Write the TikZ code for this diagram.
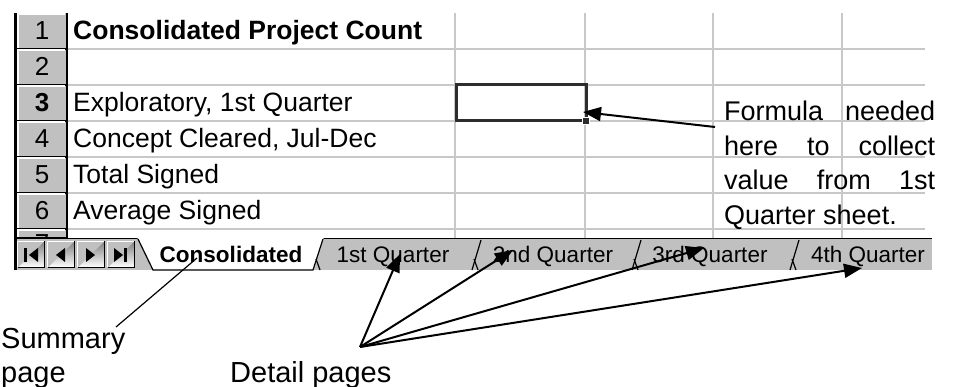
\documentclass[tikz,border=0pt]{standalone}
\usepackage{fontspec}
\setmainfont{Liberation Sans}
\usetikzlibrary{arrows.meta}
\definecolor{gridc}{RGB}{200,200,200}
\definecolor{face}{RGB}{192,192,192}
\definecolor{shade}{RGB}{128,128,128}
\definecolor{selc}{RGB}{45,45,45}
\begin{document}
\begin{tikzpicture}[x=1pt,y=-1pt,
  gridline/.style={draw=gridc, line width=1.5pt},
  celltext/.style={anchor=base west, inner sep=0pt, font=\fontsize{26.5}{30}\selectfont},
  rownum/.style={anchor=base, inner sep=0pt, font=\fontsize{26}{30}\selectfont},
  tabtext/.style={anchor=base, inner sep=0pt, font=\fontsize{22.5}{26}\selectfont},
  note/.style={inner sep=0pt, font=\fontsize{27}{34.5}\selectfont},
  label/.style={inner sep=0pt, font=\fontsize{29}{40}\selectfont},
  tabedge/.style={draw=black, line width=1.2pt},
  arr/.style={-{Triangle[length=18pt,width=14pt]}, line width=2pt},
  plainline/.style={line width=1.2pt},
  icon/.style={fill=black}
]
\useasboundingbox (0,0) rectangle (969,387);
\fill[white] (0,0) rectangle (969,387);

% ---------- grid ----------
\foreach \x in {455,585,713,842} \draw[gridline] (\x,13) -- (\x,238);
\foreach \y in {49,85,121,157,193,229} \draw[gridline] (67,\y) -- (925,\y);

% ---------- row headers ----------
\fill[face] (16,13) rectangle (67,238);
\foreach \a/\b in {13/49,49/85,85/121,121/157,157/193,193/229,229/238}{
  \draw[white, line width=1.5pt] (18,\b-1) -- (18,\a+1) -- (65,\a+1);
  \draw[shade, line width=1.2pt] (17,\b) -- (66,\b);
}
\draw[shade, line width=1.5pt] (67,13) -- (67,238);
\node[rownum] (n1) at (42,40) {1};
\node[rownum] (n2) at (42,76) {2};
\node[rownum, font=\fontsize{26}{30}\selectfont\bfseries] (n3) at (42,112) {3};
\node[rownum] (n4) at (42,148) {4};
\node[rownum] (n5) at (42,184) {5};
\node[rownum] (n6) at (42,220) {6};
\begin{scope}
  \clip (17,230) rectangle (66,238);
  \node[rownum] (n7) at (42,253) {7};
\end{scope}

% ---------- cell texts ----------
\node[celltext, font=\fontsize{26.5}{30}\selectfont\bfseries] (a1) at (73,40) {Consolidated Project Count};
\node[celltext] (a3) at (73,112) {Exploratory, 1st Quarter};
\node[celltext] (a4) at (73,148) {Concept Cleared, Jul-Dec};
\node[celltext] (a5) at (73,184) {Total Signed};
\node[celltext] (a6) at (73,220) {Average Signed};

% ---------- selected cell ----------
\draw[selc, line width=3pt] (456.5,85) rectangle (586,120.5);
\node[fill=selc, draw=white, line width=0.8pt, minimum size=7pt, inner sep=0pt] (handle) at (586,121) {};
\coordinate (celltip) at (583,112);

% ---------- tab bar ----------
\fill[face] (15,238) rectangle (932,270);
\draw[black, line width=1.5pt] (15,238.5) -- (932,238.5);
% navigation buttons
\foreach \l/\r in {17/45,47/75,77/105,107/135}{
  \fill[face] (\l,241) rectangle (\r,268);
  \draw[white, line width=1.2pt] (\l+0.5,267) -- (\l+0.5,241.5) -- (\r-1,241.5);
  \draw[shade, line width=1.2pt] (\l+1,267.5) -- (\r-0.5,267.5) -- (\r-0.5,241.5);
}
\fill[icon] (24,248) rectangle (27,262);
\fill[icon] (38,248) -- (38,262) -- (29,255) -- cycle;
\fill[icon] (65,248) -- (65,262) -- (56,255) -- cycle;
\fill[icon] (86,248) -- (86,262) -- (95,255) -- cycle;
\fill[icon] (114,248) -- (114,262) -- (123,255) -- cycle;
\fill[icon] (124,248) rectangle (127,262);
% active tab
\fill[white] (137,237) -- (324,237) -- (313,270) -- (153,270) -- cycle;
\draw[tabedge] (138,239) -- (153,270) -- (313,270) -- (323,239);
\draw[tabedge] (316,259) -- (320,270);
% inactive tab boundaries
\foreach \b in {472,632,790}{
  \draw[tabedge] (\b+9,240) -- (\b,270);
  \draw[tabedge] (\b+2,259) -- (\b+6,270);
}
\node[tabtext, font=\fontsize{22.5}{26}\selectfont\bfseries] (t0) at (231,263) {Consolidated};
\node[tabtext] (t1) at (393,263) {1st Quarter};
\node[tabtext] (t2) at (553,263) {2nd Quarter};
\node[tabtext] (t3) at (710,263) {3rd Quarter};
\node[tabtext] (t4) at (868,263) {4th Quarter};

% left sheet border
\draw[black, line width=3pt] (15,13) -- (15,270);

% ---------- annotations ----------
\node[note, anchor=north west, text width=211pt, align=justify] (formula) at (724,101)
  {\tolerance=10000\hbadness=10000 Formula needed here to collect value from 1st Quarter sheet.};
\coordinate (ftail) at (715,127);
\draw[arr] (ftail) -- (celltip);

\node[label, anchor=base west] (summary) at (1,348) {Summary};
\node[label, anchor=base west] (page) at (1,382) {page};
\coordinate (sumstart) at (116,327);
\coordinate (sumend) at (197,258);
\draw[plainline] (sumstart) -- (sumend);

\node[label, anchor=base west] (detail) at (230,382) {Detail pages};
\coordinate (apex) at (360,347);
\coordinate (q1) at (400,254);
\coordinate (q2) at (513,250);
\coordinate (q3) at (704,248);
\coordinate (q4) at (862,268);
\foreach \q in {q1,q2,q3,q4} \draw[arr] (apex) -- (\q);
\end{tikzpicture}
\end{document}
